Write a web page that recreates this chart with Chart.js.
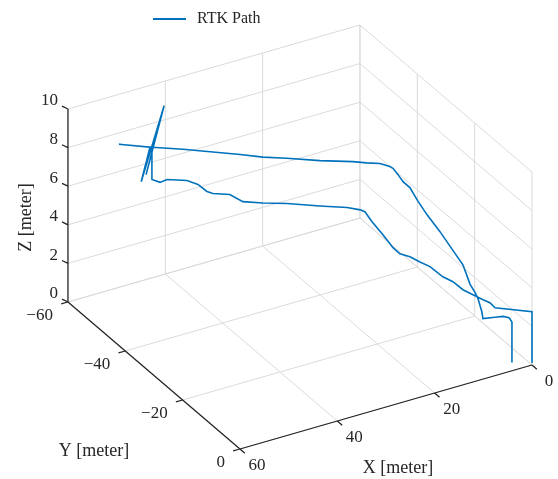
<!DOCTYPE html>
<html>
<head>
<meta charset="utf-8">
<script src="https://cdn.jsdelivr.net/npm/chart.js@4"></script>
<style>
  html, body { margin: 0; padding: 0; background: #fff; }
  #wrap { width: 558px; height: 479px; position: relative; }
</style>
</head>
<body>
<div id="wrap"><canvas id="rtkChart"></canvas></div>
<script>
// axis ticks (metres)
const xTicks = [0, 20, 40, 60];
const yTicks = [-60, -40, -20, 0];
const zTicks = [0, 2, 4, 6, 8, 10];
const xLabels = ['0', '20', '40', '60'];
const yLabels = ['\u221260', '\u221240', '\u221220', '0'];
const zLabels = ['0', '2', '4', '6', '8', '10'];
const seriesLabel = 'RTK Path';

// RTK path in metres
const pathX = [3, 3, 3, 3, 3, 3, 3, 3, 3, 3, 3, 3, 3, 3, 3, 3, 3, 3, 3, 3,
  4.75, 7.1, 9.6, 15.5, 21.3, 25.6, 29.7, 39.9, 45.4, 51.3,
  45.8, 47.6, 42.9, 46.6, 43.3, 45.4, 45.4,
  43.9, 42.6, 38.9, 36.9, 35.2, 34.1, 31.0, 28.6, 24.9, 20.4, 14.4, 9.3, 6.9, 6.0,
  6, 6, 6, 6, 6, 6, 6, 6, 6, 6, 6, 6, 6, 6,
  0, 0];
const pathY = [-1.9, -1.9, -2.9, -5.0, -7.8, -12.0, -12.4, -13.7, -14.8, -16.5, -19.0, -22.5, -27.0, -31.5, -34.7, -37.5, -39.9, -41.7, -43.4, -44.5,
  -45.0, -45.6, -46.2, -47.7, -49.3, -50.4, -51.4, -54.0, -55.5, -57.0,
  -55.5, -55.5, -55.5, -55.5, -55.5, -55.5, -55.5,
  -55.2, -55.0, -54.3, -53.9, -53.6, -53.4, -52.8, -52.3, -51.6, -50.8, -49.6, -48.7, -48.2, -48.1,
  -45.6, -41.8, -38.3, -35.9, -32.4, -28.9, -25.4, -20.9, -17.4, -13.9, -9.0, -6.9, -4.5, -2.7,
  0, 0];
const pathZ = [0.1, 2.2, 2.3, 2.1, 1.7, 1.1, 1.4, 1.9, 2.1, 2.3, 3.0, 3.3, 3.7, 4.0, 4.3, 4.65, 4.65, 4.8, 4.9, 4.85,
  5.07, 5.2, 5.37, 5.66, 6.0, 6.23, 6.54, 7.22, 7.53, 7.92,
  7.56, 5.9, 9.5, 6.2, 9.2, 7.4, 5.86,
  5.64, 5.72, 5.49, 5.19, 4.74, 4.58, 4.38, 3.9, 3.65, 3.4, 2.99, 2.65, 2.42, 2.27,
  2.07, 1.88, 1.65, 1.64, 1.93, 2.10, 2.31, 2.35, 2.54, 2.57, 2.83, 2.94, 3.09, 3.06,
  2.76, 0.1];

// view: where the origin lands and where one metre along each axis goes
const view = { ox: 532, oy: 365, xx: -4.867, xy: 1.4, yx: 2.867, yy: 2.45, zy: -19.3 };

function project(X, Y, Z) {
  return {
    x: view.ox + view.xx * X + view.yx * Y,
    y: view.oy + view.xy * X + view.yy * Y + view.zy * Z
  };
}

// list of [from, to] 3D pairs -> one line dataset with gaps
function segments(pairs) {
  const out = [];
  pairs.forEach(([a, b]) => {
    out.push(project(...a), project(...b), { x: null, y: null });
  });
  return out;
}

const xMax = xTicks[xTicks.length - 1], yMin = yTicks[0], zMax = zTicks[zTicks.length - 1];

const gridPairs = [];
xTicks.forEach(X => {
  gridPairs.push([[X, yMin, 0], [X, 0, 0]]);           // floor
  if (X !== xMax) gridPairs.push([[X, yMin, 0], [X, yMin, zMax]]); // back wall
});
yTicks.forEach(Y => {
  gridPairs.push([[0, Y, 0], [xMax, Y, 0]]);           // floor
  gridPairs.push([[0, Y, 0], [0, Y, zMax]]);           // right wall
});
zTicks.forEach(Z => {
  gridPairs.push([[0, yMin, Z], [xMax, yMin, Z]]);
  gridPairs.push([[0, yMin, Z], [0, 0, Z]]);
});

const axisPairs = [
  [[xMax, yMin, 0], [xMax, yMin, zMax]],
  [[xMax, yMin, 0], [xMax, 0, 0]],
  [[xMax, 0, 0], [0, 0, 0]]
];
zTicks.forEach(Z => axisPairs.push([[xMax, yMin, Z], [xMax + 0.4, yMin - 1.4, Z]]));
yTicks.forEach(Y => axisPairs.push([[xMax, Y, 0], [xMax + 1.4, Y, 0]]));
xTicks.forEach(X => axisPairs.push([[X, 0, 0], [X, 1.7, 0]]));

const pathPoints = pathX.map((X, i) => project(X, pathY[i], pathZ[i]));

const textPlugin = {
  id: 'axisText',
  afterDatasetsDraw(chart) {
    const { ctx, scales: { x, y } } = chart;
    const px = p => ({ x: x.getPixelForValue(p.x), y: y.getPixelForValue(p.y) });
    ctx.save();
    ctx.fillStyle = '#262626';
    ctx.textBaseline = 'middle';

    // tick labels
    ctx.font = '17px "Liberation Serif"';
    ctx.textAlign = 'right';
    zTicks.forEach((v, i) => {
      const p = px(project(xMax, yMin, v));
      ctx.fillText(zLabels[i], p.x - 10, p.y - 8);
    });
    yTicks.forEach((v, i) => {
      const p = px(project(xMax, v, 0));
      ctx.fillText(yLabels[i], p.x - 15, p.y + 14);
    });
    ctx.textAlign = 'center';
    xTicks.forEach((v, i) => {
      const p = px(project(v, 0, 0));
      ctx.fillText(xLabels[i], p.x + 17, p.y + 17);
    });

    // axis titles
    ctx.font = '18px "Liberation Serif"';
    let p = px(project(xMax / 2, 0, 0));
    ctx.fillText('X [meter]', p.x + 12, p.y + 61);
    p = px(project(xMax, yMin / 2, 0));
    ctx.fillText('Y [meter]', p.x - 60, p.y + 76);
    p = px(project(xMax, yMin, zMax / 2));
    ctx.save();
    ctx.translate(p.x - 42, p.y + 12);
    ctx.rotate(-Math.PI / 2);
    ctx.fillText('Z [meter]', 0, 0);
    ctx.restore();

    // legend
    const ds = chart.data.datasets[0];
    ctx.strokeStyle = ds.borderColor;
    ctx.lineWidth = 2;
    ctx.beginPath();
    ctx.moveTo(153, 19);
    ctx.lineTo(186, 19);
    ctx.stroke();
    ctx.font = '16px "Liberation Serif"';
    ctx.textAlign = 'left';
    ctx.fillText(ds.label, 197, 19);
    ctx.restore();
  }
};

new Chart(document.getElementById('rtkChart'), {
  type: 'scatter',
  data: {
    datasets: [
      {
        label: seriesLabel,
        data: pathPoints,
        showLine: true,
        borderColor: '#0072BD',
        borderWidth: 1.6,
        pointRadius: 0,
        tension: 0
      },
      {
        label: 'axes',
        data: segments(axisPairs),
        showLine: true,
        spanGaps: false,
        borderColor: '#262626',
        borderWidth: 1.3,
        pointRadius: 0
      },
      {
        label: 'grid',
        data: segments(gridPairs),
        showLine: true,
        spanGaps: false,
        borderColor: '#dadada',
        borderWidth: 1,
        pointRadius: 0
      }
    ]
  },
  options: {
    responsive: true,
    maintainAspectRatio: false,
    animation: false,
    layout: { padding: 0 },
    plugins: {
      legend: { display: false },
      tooltip: { enabled: false }
    },
    scales: {
      x: { type: 'linear', min: 0, max: 558, display: false },
      y: { type: 'linear', min: 0, max: 479, reverse: true, display: false }
    }
  },
  plugins: [textPlugin]
});
</script>
</body>
</html>
